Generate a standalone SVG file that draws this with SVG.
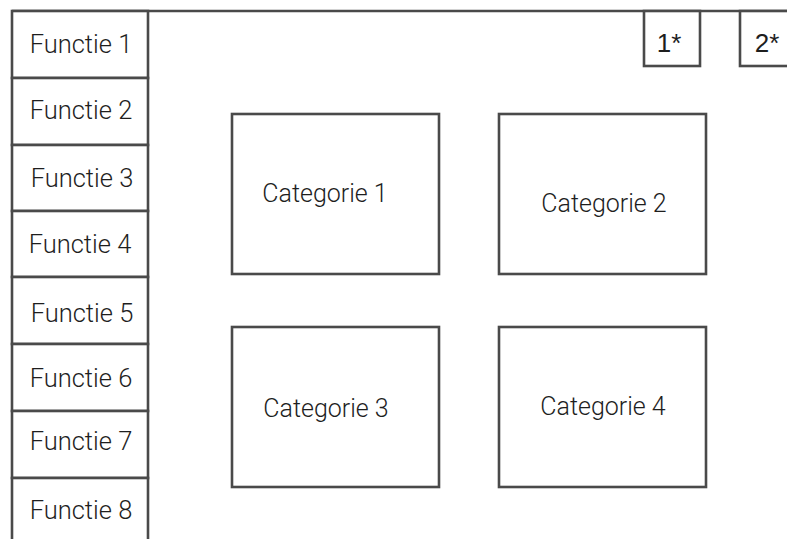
<svg xmlns="http://www.w3.org/2000/svg" width="787" height="539" viewBox="0 0 787 539">
  <style>
    .box { fill: #ffffff; stroke: #4a4a4a; stroke-width: 2.6; }
    .frame { fill: none; stroke: #4a4a4a; stroke-width: 2.6; }
    .lbl { font-family: Roboto, "Liberation Sans", Arial, sans-serif; font-weight: 300; font-size: 25.5px; fill: #1e1e1e; text-anchor: middle; }
    .cat { font-size: 25px; }
    .mark { font-family: "Liberation Sans", Arial, sans-serif; font-weight: 400; font-size: 26px; }
  </style>
  <rect width="787" height="539" fill="#ffffff"/>

  <!-- top border of the screen area -->
  <line class="frame" x1="12" y1="11" x2="787" y2="11"/>

  <!-- function menu column -->
  <g id="functie-1"><rect class="box" x="12" y="11" width="136" height="67"/><text class="lbl" x="81" y="53">Functie 1</text></g>
  <g id="functie-2"><rect class="box" x="12" y="78" width="136" height="67"/><text class="lbl" x="81" y="119">Functie 2</text></g>
  <g id="functie-3"><rect class="box" x="12" y="145" width="136" height="66"/><text class="lbl" x="82" y="187">Functie 3</text></g>
  <g id="functie-4"><rect class="box" x="12" y="211" width="136" height="66"/><text class="lbl" x="80" y="253">Functie 4</text></g>
  <g id="functie-5"><rect class="box" x="12" y="277" width="136" height="67"/><text class="lbl" x="82" y="322">Functie 5</text></g>
  <g id="functie-6"><rect class="box" x="12" y="344" width="136" height="67"/><text class="lbl" x="81" y="387">Functie 6</text></g>
  <g id="functie-7"><rect class="box" x="12" y="411" width="136" height="67"/><text class="lbl" x="81" y="450">Functie 7</text></g>
  <g id="functie-8"><rect class="box" x="12" y="478" width="136" height="80"/><text class="lbl" x="81" y="519">Functie 8</text></g>

  <!-- top-right markers -->
  <g id="marker-1"><rect class="box" x="644" y="11" width="56" height="55"/><text class="lbl mark" x="669" y="52">1*</text></g>
  <g id="marker-2"><rect class="box" x="740" y="11" width="60" height="55"/><text class="lbl mark" x="767" y="52">2*</text></g>

  <!-- category tiles -->
  <g id="categorie-1"><rect class="box" x="232" y="114" width="207" height="160"/><text class="lbl cat" x="325" y="202">Categorie 1</text></g>
  <g id="categorie-2"><rect class="box" x="499" y="114" width="207" height="160"/><text class="lbl cat" x="604" y="212">Categorie 2</text></g>
  <g id="categorie-3"><rect class="box" x="232" y="327" width="207" height="160"/><text class="lbl cat" x="326" y="417">Categorie 3</text></g>
  <g id="categorie-4"><rect class="box" x="499" y="327" width="207" height="160"/><text class="lbl cat" x="603" y="415">Categorie 4</text></g>

  <g id="connectors"/>
</svg>
